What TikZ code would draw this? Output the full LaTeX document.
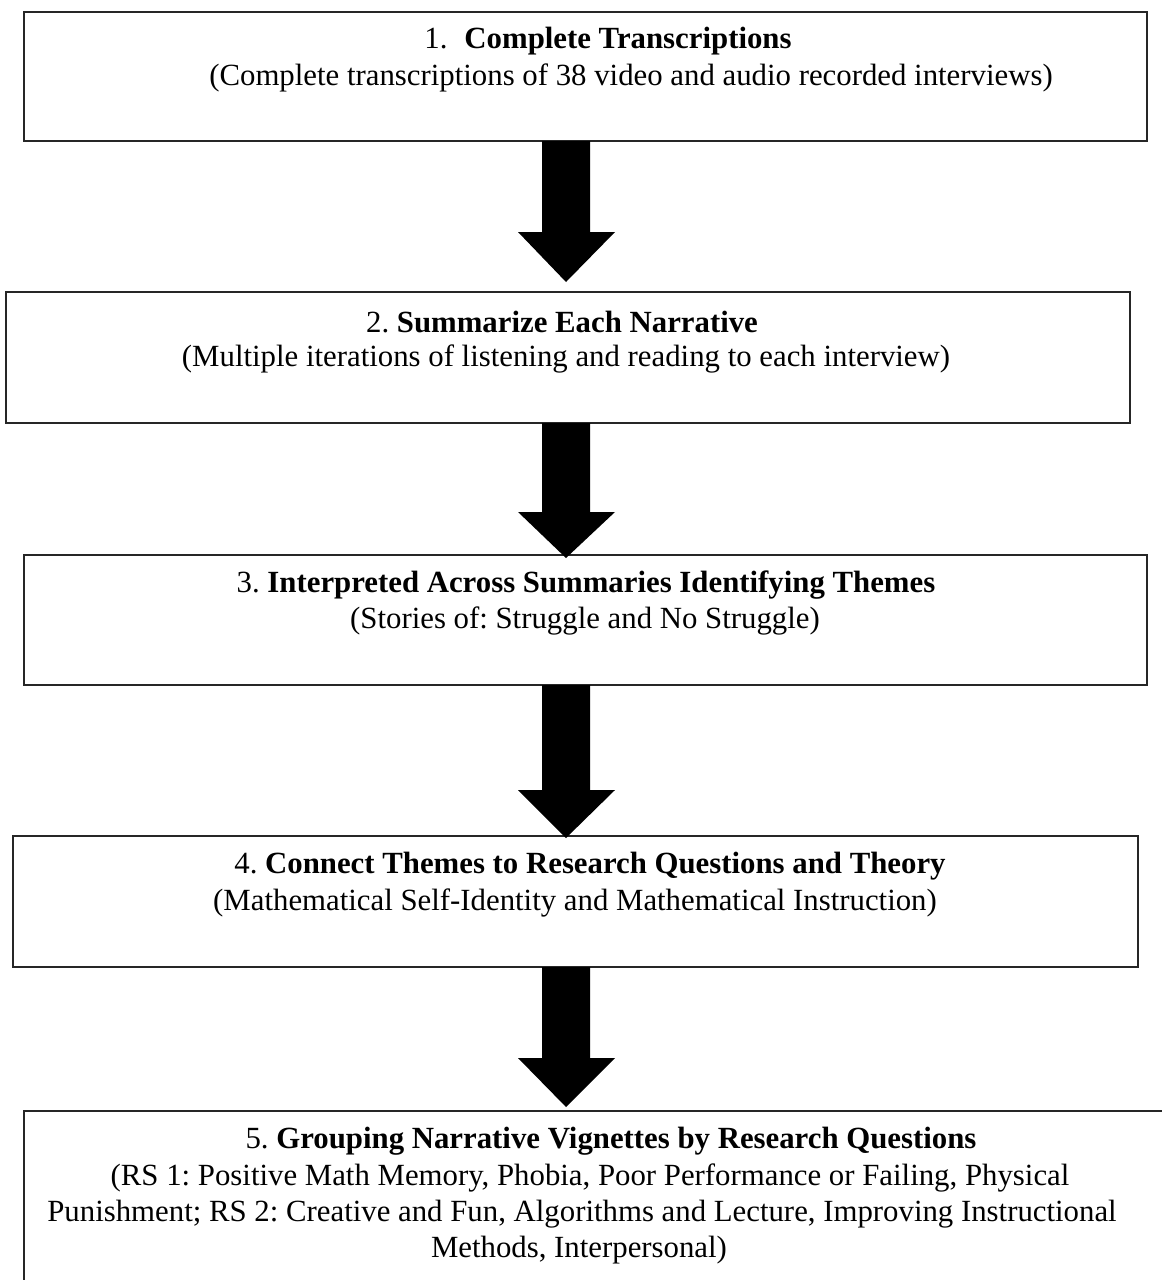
\documentclass[tikz,border=0pt]{standalone}
\usepackage{fontspec}
\setmainfont{Liberation Serif}
\usetikzlibrary{calc}
\frenchspacing
\begin{document}
\begin{tikzpicture}[x=1pt,y=-1pt,
  box/.style={draw=black!85,line width=1.8pt,fill=none},
  txt/.style={inner sep=0pt,font=\fontsize{30.8}{36}\selectfont},
  blockarrow/.style={fill=black,draw=none}]
\useasboundingbox (0,0) rectangle (1162,1280);
\fill[white] (0,0) rectangle (1162,1280);
% boxes
\draw[box] (24,12) rectangle (1147,141);
\coordinate (b1s) at (566,141);
\draw[box] (6,292) rectangle (1130,423);
\coordinate (b2n) at (566,292);
\coordinate (b2s) at (566,423);
\draw[box] (24,555) rectangle (1147,685);
\coordinate (b3n) at (566,555);
\coordinate (b3s) at (566,685);
\draw[box] (13,836) rectangle (1138,967);
\coordinate (b4n) at (566,836);
\coordinate (b4s) at (566,967);
\draw[box] (24,1111) rectangle (1180,1300);
\coordinate (b5n) at (566,1111);
% texts
\node[txt] (t1a) at (608,41) {1.\hspace{0.55em}\textbf{Complete Transcriptions}};
\node[txt] (t1b) at (631,78) {(Complete transcriptions of 38 video and audio recorded interviews)};
\node[txt] (t2a) at (562,322) {2. \textbf{Summarize Each Narrative}};
\node[txt] (t2b) at (566,359) {(Multiple iterations of listening and reading to each interview)};
\node[txt] (t3a) at (586,585) {3. \textbf{Interpreted Across Summaries Identifying Themes}};
\node[txt] (t3b) at (585,621) {(Stories of: Struggle and No Struggle)};
\node[txt] (t4a) at (590,866) {4. \textbf{Connect Themes to Research Questions and Theory}};
\node[txt] (t4b) at (575,903) {(Mathematical Self-Identity and Mathematical Instruction)};
\node[txt] (t5a) at (611,1141) {5. \textbf{Grouping Narrative Vignettes by Research Questions}};
\node[txt] (t5b) at (590,1178) {(RS 1: Positive Math Memory, Phobia, Poor Performance or Failing, Physical};
\node[txt] (t5c) at (582,1214) {Punishment; RS 2: Creative and Fun, Algorithms and Lecture, Improving Instructional};
\node[txt] (t5d) at (579,1250) {Methods, Interpersonal)};
% block arrows
\fill[blockarrow] ($(b1s)+(-24,0)$) -- ($(b1s)+(24,0)$) -- ($(b1s)+(24,91)$) -- ($(b1s)+(49,91)$) -- ($(b2n)+(0,-10)$) -- ($(b1s)+(-48,91)$) -- ($(b1s)+(-24,91)$) -- cycle;
\fill[blockarrow] ($(b2s)+(-24,0)$) -- ($(b2s)+(24,0)$) -- ($(b2s)+(24,89)$) -- ($(b2s)+(49,89)$) -- ($(b3n)+(0,3)$) -- ($(b2s)+(-48,89)$) -- ($(b2s)+(-24,89)$) -- cycle;
\fill[blockarrow] ($(b3s)+(-24,0)$) -- ($(b3s)+(24,0)$) -- ($(b3s)+(24,105)$) -- ($(b3s)+(49,105)$) -- ($(b4n)+(0,2)$) -- ($(b3s)+(-48,105)$) -- ($(b3s)+(-24,105)$) -- cycle;
\fill[blockarrow] ($(b4s)+(-24,0)$) -- ($(b4s)+(24,0)$) -- ($(b4s)+(24,91)$) -- ($(b4s)+(49,91)$) -- ($(b5n)+(0,-4)$) -- ($(b4s)+(-48,91)$) -- ($(b4s)+(-24,91)$) -- cycle;
\end{tikzpicture}
\end{document}
